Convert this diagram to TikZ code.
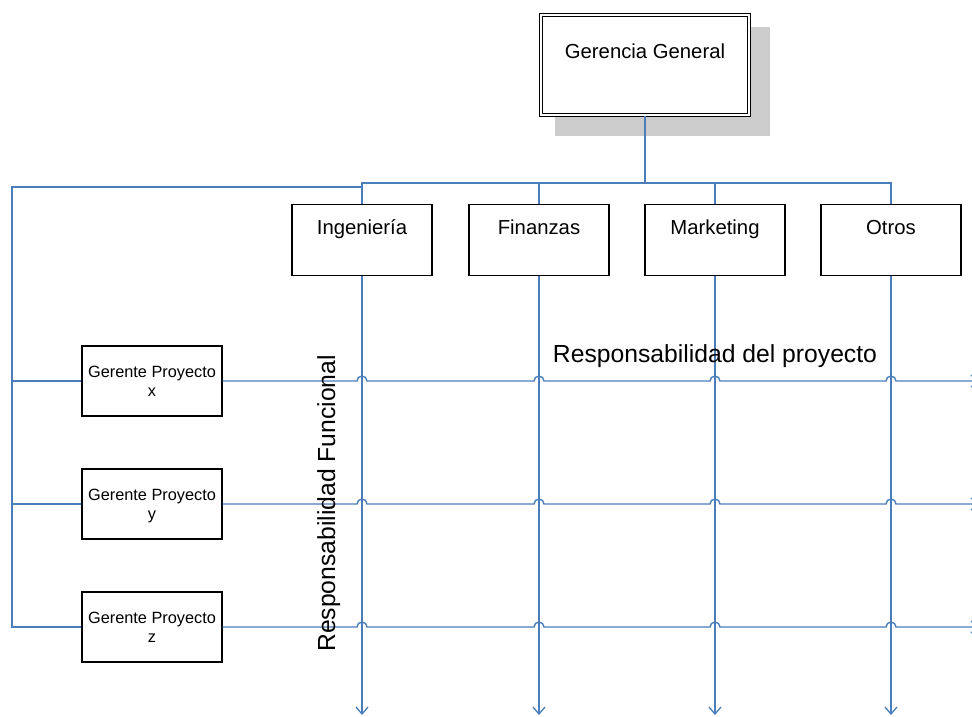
\documentclass[tikz,border=0pt]{standalone}
\usepackage{fontspec}
\setmainfont{Liberation Sans}
\usetikzlibrary{arrows.meta,backgrounds}
\definecolor{linkblue}{RGB}{74,126,187}
\definecolor{shadowgray}{RGB}{204,204,204}

\begin{document}
\begin{tikzpicture}[x=1pt,y=-1pt,
  conn/.style={draw=linkblue,line width=1.4pt},
  flow/.style={conn,-{Straight Barb[length=7pt,width=12pt,line width=1.3pt]}},
  box/.style={draw=black,line width=1.3pt,fill=white,inner sep=0pt},
  deptbox/.style={box,minimum width=140pt,minimum height=71pt},
  mgrbox/.style={box,minimum width=140pt,minimum height=70pt},
  bigtxt/.style={font=\fontsize{24.7}{29}\selectfont,inner sep=0pt,anchor=base},
  depttxt/.style={font=\fontsize{20.3}{24}\selectfont,inner sep=0pt,anchor=base},
  mgrtxt/.style={font=\fontsize{16.3}{19}\selectfont,inner sep=0pt,anchor=base},
]
\useasboundingbox (0,0) rectangle (972,716);

% general management box with double frame and drop shadow
\node[box,double,double distance=2.4pt,line width=1.1pt,
      minimum width=208pt,minimum height=100pt] (gg) at (645,65) {};
\begin{scope}[on background layer]
  \fill[shadowgray] ([shift={(15,13)}]gg.north west) rectangle ([shift={(20,20)}]gg.south east);
\end{scope}
\node[depttxt] (ggt) at (645,58) {Gerencia General};

% functional departments
\node[deptbox] (ing) at (362,240) {};
\node[deptbox] (fin) at (539,240) {};
\node[deptbox] (mkt) at (715,240) {};
\node[deptbox] (otr) at (891,240) {};
\node[depttxt] (ingt) at (362,234) {Ingeniería};
\node[depttxt] (fint) at (539,234) {Finanzas};
\node[depttxt] (mktt) at (715,234) {Marketing};
\node[depttxt] (otrt) at (891,234) {Otros};

% project managers
\node[mgrbox] (gx) at (152,381) {};
\node[mgrbox] (gy) at (152,504) {};
\node[mgrbox] (gz) at (152,627) {};
\node[mgrtxt] (gxt) at (152,377) {Gerente Proyecto};
\node[mgrtxt] (gxl) at (152,396) {x};
\node[mgrtxt] (gyt) at (152,500) {Gerente Proyecto};
\node[mgrtxt] (gyl) at (152,519) {y};
\node[mgrtxt] (gzt) at (152,623) {Gerente Proyecto};
\node[mgrtxt] (gzl) at (152,642) {z};

% helper points
\coordinate (bus) at (645,183);
\coordinate (lt) at (12,187);
\coordinate (bottom) at (0,715);
\coordinate (rend) at (979,0);

% top distribution bus
\draw[conn] (gg.south) -- (bus);
\draw[conn] (ing.north) |- (otr.north |- bus) -- (otr.north);
\draw[conn] (fin.north |- bus) -- (fin.north);
\draw[conn] (mkt.north |- bus) -- (mkt.north);

% left bus to the project managers
\draw[conn] (ing.north |- lt) -- (lt) |- (gz.west);
\draw[conn] (lt |- gx.west) -- (gx.west);
\draw[conn] (lt |- gy.west) -- (gy.west);

% functional responsibility lines
\foreach \c in {ing,fin,mkt,otr}
  \draw[flow] (\c.south) -- (\c.south |- bottom);

% project responsibility lines, hopping over the verticals
\foreach \g in {gx,gy,gz}
  \draw[flow] (\g.east) \foreach \c in {ing,fin,mkt,otr} {
      -- ([xshift=-5pt]\c.south |- \g.east) arc[start angle=180,end angle=0,radius=5pt]
    } -- (\g.east -| rend);

% axis captions
\node[bigtxt] (rp) at (715,362) {Responsabilidad del proyecto};
\node[bigtxt,rotate=90,anchor=base west] (rf) at (335,652) {Responsabilidad Funcional};
\end{tikzpicture}
\end{document}
